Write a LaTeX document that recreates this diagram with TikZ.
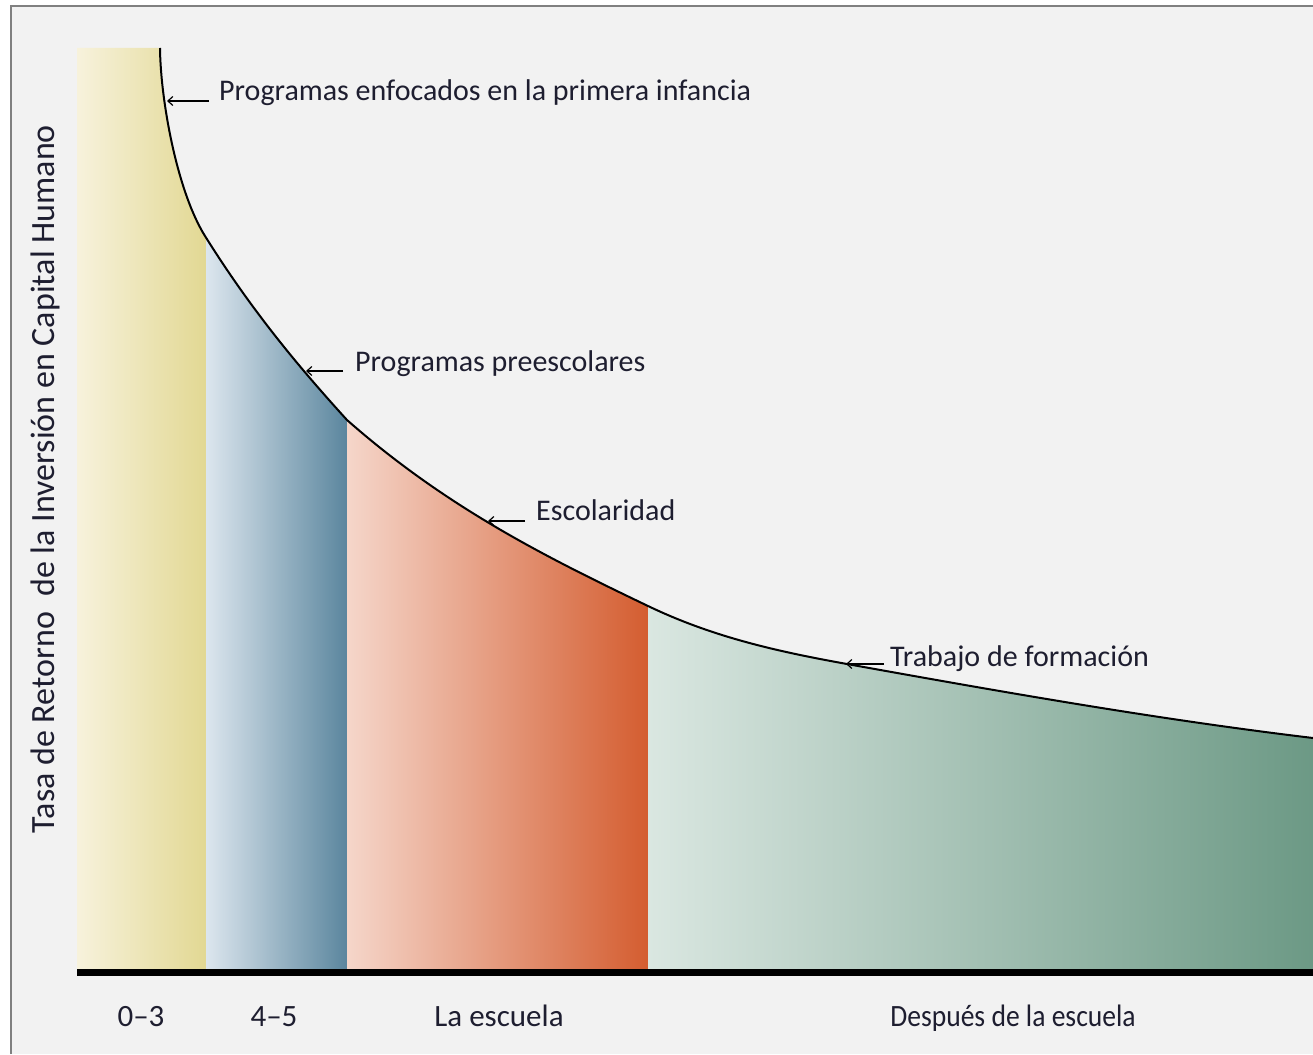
\documentclass[tikz,border=0pt]{standalone}
\usepackage{fontspec}
\setmainfont{Carlito}
\newfontfamily\botfont[FakeStretch=0.89]{Carlito}
\usetikzlibrary{arrows.meta}
\definecolor{bgg}{HTML}{F2F2F2}
\definecolor{framegray}{HTML}{808080}
\definecolor{yA}{HTML}{F7F2DC}
\definecolor{yB}{HTML}{E2D893}
\definecolor{bA}{HTML}{DCE6EE}
\definecolor{bB}{HTML}{5B869E}
\definecolor{sA}{HTML}{F5D6CA}
\definecolor{sB}{HTML}{D45D30}
\definecolor{gA}{HTML}{DAE7E1}
\definecolor{gB}{HTML}{6C9985}
\definecolor{txt}{HTML}{1E1E30}
\tikzset{
  curveline/.style={line width=2pt, black},
  lab/.style={font=\fontsize{30}{34}\selectfont, text=txt, inner sep=0pt, anchor=base west},
  botlab/.style={font=\fontsize{31}{34}\selectfont, text=txt, inner sep=0pt, anchor=base},
  pointer/.style={line width=1.4pt, black, -{Straight Barb[length=5pt,width=9pt,line width=1.2pt]}},
}
\begin{document}
\begin{tikzpicture}[x=1pt,y=-1pt]
\useasboundingbox (0,0) rectangle (1313,1054);
\fill[white] (0,0) rectangle (1313,1054);
\fill[bgg] (11,6) rectangle (1313,1054);
\draw[framegray, line width=2.5pt] (11,1054) -- (11,6) -- (1313,6);

% bars under the curve
\begin{scope}
\clip (77,969) -- (77,48) -- (160,48)
  .. controls (160.5,100) and (177,191.2) .. (205,236)
  .. controls (252.33,311.7) and (299.67,367.9) .. (347,420)
  .. controls (447.33,508.3) and (547.67,557.84) .. (648,606)
  .. controls (714.33,637.84) and (780.67,652.06) .. (847,664)
  .. controls (1002.33,691.96) and (1157.67,719.36) .. (1313,738)
  -- (1313,969) -- cycle;
\shade[left color=yA, right color=yB] (77,40) rectangle (206,969);
\shade[left color=bA, right color=bB] (206,40) rectangle (347,969);
\shade[left color=sA, right color=sB] (347,40) rectangle (648,969);
\shade[left color=gA, right color=gB] (648,40) rectangle (1313,969);
\end{scope}
\draw[curveline] (160,48)
  .. controls (160.5,100) and (177,191.2) .. (205,236)
  .. controls (252.33,311.7) and (299.67,367.9) .. (347,420)
  .. controls (447.33,508.3) and (547.67,557.84) .. (648,606)
  .. controls (714.33,637.84) and (780.67,652.06) .. (847,664)
  .. controls (1002.33,691.96) and (1157.67,719.36) .. (1313,738);

% axis
\draw[line width=7pt, black] (77,972.5) -- (1313,972.5);

% y label
\node[font=\fontsize{34}{38}\selectfont, text=txt, rotate=90, inner sep=0pt] (ylab) at (45,479) {Tasa de Retorno\ \ de la Inversión en Capital Humano};

% curve labels
\coordinate (t1) at (167,101);
\coordinate (t2) at (306,371);
\coordinate (t3) at (488,521);
\coordinate (t4) at (846,664);
\node[lab] (l1) at (219,101) {Programas enfocados en la primera infancia};
\node[lab] (l2) at (355,371) {Programas preescolares};
\node[lab] (l3) at (536,520) {Escolaridad};
\node[lab] (l4) at (890,666) {Trabajo de formación};
\draw[pointer] ([shift={(-10pt,0pt)}]l1.base west) -- (t1);
\draw[pointer] ([shift={(-12pt,0pt)}]l2.base west) -- (t2);
\draw[pointer] ([shift={(-11pt,-1pt)}]l3.base west) -- (t3);
\draw[pointer] ([shift={(-6pt,2pt)}]l4.base west) -- (t4);

% bottom labels
\node[botlab] (b1) at (141,1026) {0–3};
\node[botlab] (b2) at (274,1026) {4–5};
\node[botlab] (b3) at (499,1026) {La escuela};
\node[botlab, font=\botfont\fontsize{31}{34}\selectfont] (b4) at (1013,1026) {Después de la escuela};
\end{tikzpicture}
\end{document}
